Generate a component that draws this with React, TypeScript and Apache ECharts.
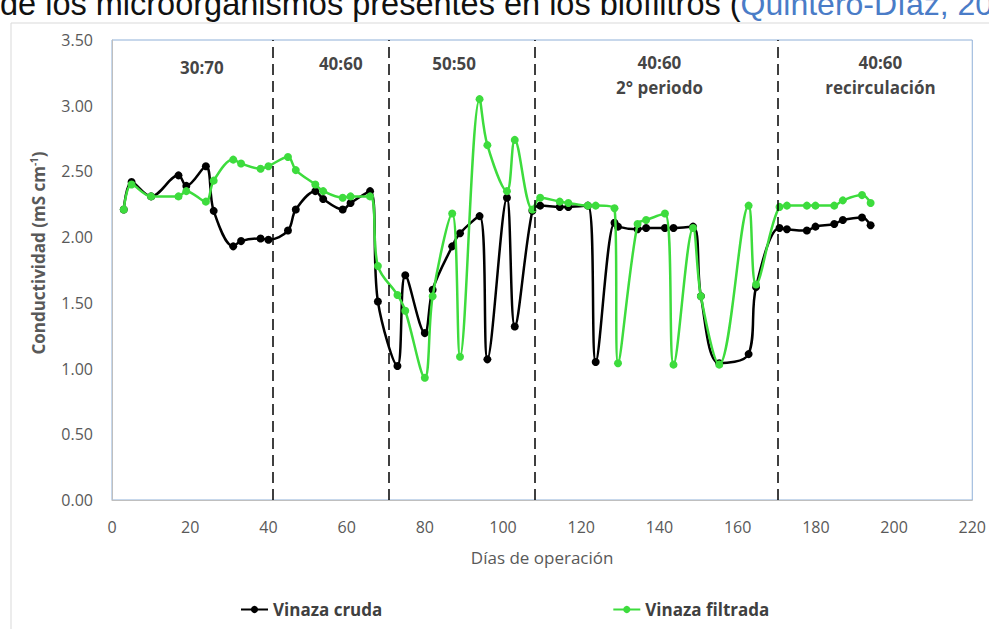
import React, { useEffect, useRef } from "react";
import * as echarts from "echarts";

const days = [
  3, 5, 10, 17, 19, 24, 26, 31, 33, 38, 40, 45, 47, 52, 54, 59, 61, 66, 68, 73,
  75, 80, 82, 87, 89, 94, 96, 101, 103, 107.5, 109.5, 114.5, 116.7, 121.7, 123.7,
  128.5, 129.4, 134.4, 136.6, 141.4, 143.6, 148.6, 150.6, 155.3, 162.8, 164.7,
  170.7, 172.6, 177.7, 179.9, 184.7, 186.9, 191.8, 194,
];

const vinazaCruda = [
  2.21, 2.42, 2.31, 2.47, 2.39, 2.54, 2.2, 1.93, 1.97, 1.99, 1.98, 2.05, 2.21, 2.35,
  2.29, 2.21, 2.26, 2.35, 1.51, 1.02, 1.71, 1.27, 1.6, 1.93, 2.03, 2.16, 1.07, 2.3,
  1.32, 2.2, 2.24, 2.23, 2.23, 2.24, 1.05, 2.11, 2.08, 2.06, 2.07, 2.07, 2.07, 2.08,
  1.55, 1.04, 1.11, 1.62, 2.07, 2.06, 2.05, 2.08, 2.1, 2.13, 2.15, 2.09,
];

const vinazaFiltrada = [
  2.21, 2.4, 2.31, 2.31, 2.35, 2.27, 2.43, 2.59, 2.56, 2.52, 2.54, 2.61, 2.51, 2.4,
  2.35, 2.3, 2.31, 2.31, 1.78, 1.56, 1.44, 0.93, 1.55, 2.18, 1.09, 3.05, 2.7, 2.35,
  2.74, 2.21, 2.3, 2.27, 2.26, 2.24, 2.24, 2.22, 1.04, 2.1, 2.13, 2.18, 1.03, 2.07,
  1.55, 1.03, 2.24, 1.64, 2.23, 2.24, 2.24, 2.24, 2.24, 2.28, 2.32, 2.26,
];

const seriesNames = ["Vinaza cruda", "Vinaza filtrada"];
const phaseBoundaries = [41, 70.8, 108, 170.3];
const phaseLabels = ["30:70", "40:60", "50:50", "40:60\n2° periodo", "40:60\nrecirculación"];
const phaseLabelX = [23, 58.5, 87.5, 140, 196.5];
const phaseLabelY = [3.29, 3.32, 3.32, 3.23, 3.23];

const FONT = "'Open Sans', 'DejaVu Sans', sans-serif";

export default function App() {
  const ref = useRef<HTMLDivElement>(null);

  useEffect(() => {
    document.body.style.margin = "0";
    if (!ref.current) return;
    const chart = echarts.init(ref.current, null, { renderer: "svg" });

    const toPairs = (vals: number[]) => days.map((d, i) => [d, vals[i]]);

    const option: any = {
      animation: false,
      backgroundColor: "#ffffff",
      grid: {
        left: 112,
        right: 15,
        top: 40,
        bottom: 129,
        show: true,
        borderColor: "#8fb0d8",
        borderWidth: 1,
        backgroundColor: "transparent",
      },
      xAxis: {
        type: "value",
        min: 0,
        max: 220,
        interval: 20,
        name: "Días de operación",
        nameLocation: "middle",
        nameGap: 49,
        nameTextStyle: { color: "#595959", fontSize: 17, fontFamily: FONT },
        axisLine: { show: true, lineStyle: { color: "#bfbfbf", width: 1 } },
        axisTick: { show: false },
        splitLine: { show: false },
        axisLabel: { color: "#595959", fontSize: 16, fontFamily: FONT, margin: 19 },
      },
      yAxis: {
        type: "value",
        min: 0,
        max: 3.5,
        interval: 0.5,
        axisLine: { show: true, lineStyle: { color: "#bfbfbf", width: 1 } },
        axisTick: { show: false },
        splitLine: { show: false },
        axisLabel: {
          color: "#595959",
          fontSize: 16,
          fontFamily: FONT,
          margin: 19,
          formatter: (v: number) => v.toFixed(2),
        },
      },
      legend: {
        data: seriesNames,
        left: 235,
        top: 596,
        itemWidth: 27,
        itemHeight: 9,
        itemGap: 230,
        textStyle: { color: "#404040", fontSize: 17, fontWeight: "bold", fontFamily: FONT },
      },
      graphic: [
        {
          type: "rect",
          shape: { x: 11, y: 23, width: 1100, height: 800 },
          style: { fill: "none", stroke: "#d9d9d9", lineWidth: 1 },
          silent: true,
        },
        {
          type: "text",
          x: 0,
          y: 20,
          style: {
            text: "{a|de los microorganismos presentes en los biofiltros (}{b|Quintero-Díaz, 20}",
            verticalAlign: "bottom",
            rich: {
              a: { fontSize: 32.5, fontFamily: "'Liberation Sans', Arial, sans-serif", fill: "#111111" },
              b: { fontSize: 32, fontFamily: "'Liberation Sans', Arial, sans-serif", fill: "#4a7cc7" },
            },
          },
          silent: true,
        },
        {
          type: "text",
          x: 38,
          y: 253,
          rotation: Math.PI / 2,
          style: {
            text: "{n|Conductividad (mS cm}{s|-1}{n|)}",
            align: "center",
            verticalAlign: "middle",
            rich: {
              n: { fontSize: 17, fontWeight: "bold", fontFamily: FONT, fill: "#595959" },
              s: {
                fontSize: 10,
                fontWeight: "bold",
                fontFamily: FONT,
                fill: "#595959",
                verticalAlign: "top",
                padding: [0, 0, 8, 0],
              },
            },
          },
          silent: true,
        },
      ],
      series: [
        {
          name: seriesNames[0],
          type: "line",
          data: toPairs(vinazaCruda),
          smooth: 0.35,
          symbol: "circle",
          symbolSize: 8,
          z: 3,
          itemStyle: { color: "#000000" },
          lineStyle: { color: "#000000", width: 2.5 },
          markLine: {
            silent: true,
            symbol: ["none", "none"],
            label: { show: false },
            lineStyle: { color: "#000000", type: [11, 6], width: 1.5 },
            data: phaseBoundaries.map((x) => ({ xAxis: x })),
          },
        },
        {
          name: seriesNames[1],
          type: "line",
          data: toPairs(vinazaFiltrada),
          smooth: 0.35,
          symbol: "circle",
          symbolSize: 8,
          z: 4,
          itemStyle: { color: "#3ddc3d" },
          lineStyle: { color: "#3ddc3d", width: 2.5 },
        },
        {
          name: "phases",
          type: "scatter",
          silent: true,
          symbolSize: 1,
          itemStyle: { color: "transparent" },
          data: phaseLabelX.map((x, i) => [x, phaseLabelY[i]]),
          label: {
            show: true,
            position: "inside",
            formatter: (p: any) => phaseLabels[p.dataIndex],
            color: "#111111",
            fontSize: 17,
            fontWeight: "bold",
            fontFamily: FONT,
            lineHeight: 25,
            align: "center",
          },
        },
      ],
    };

    chart.setOption(option);
    return () => chart.dispose();
  }, []);

  return <div ref={ref} style={{ width: 989, height: 629 }} />;
}
